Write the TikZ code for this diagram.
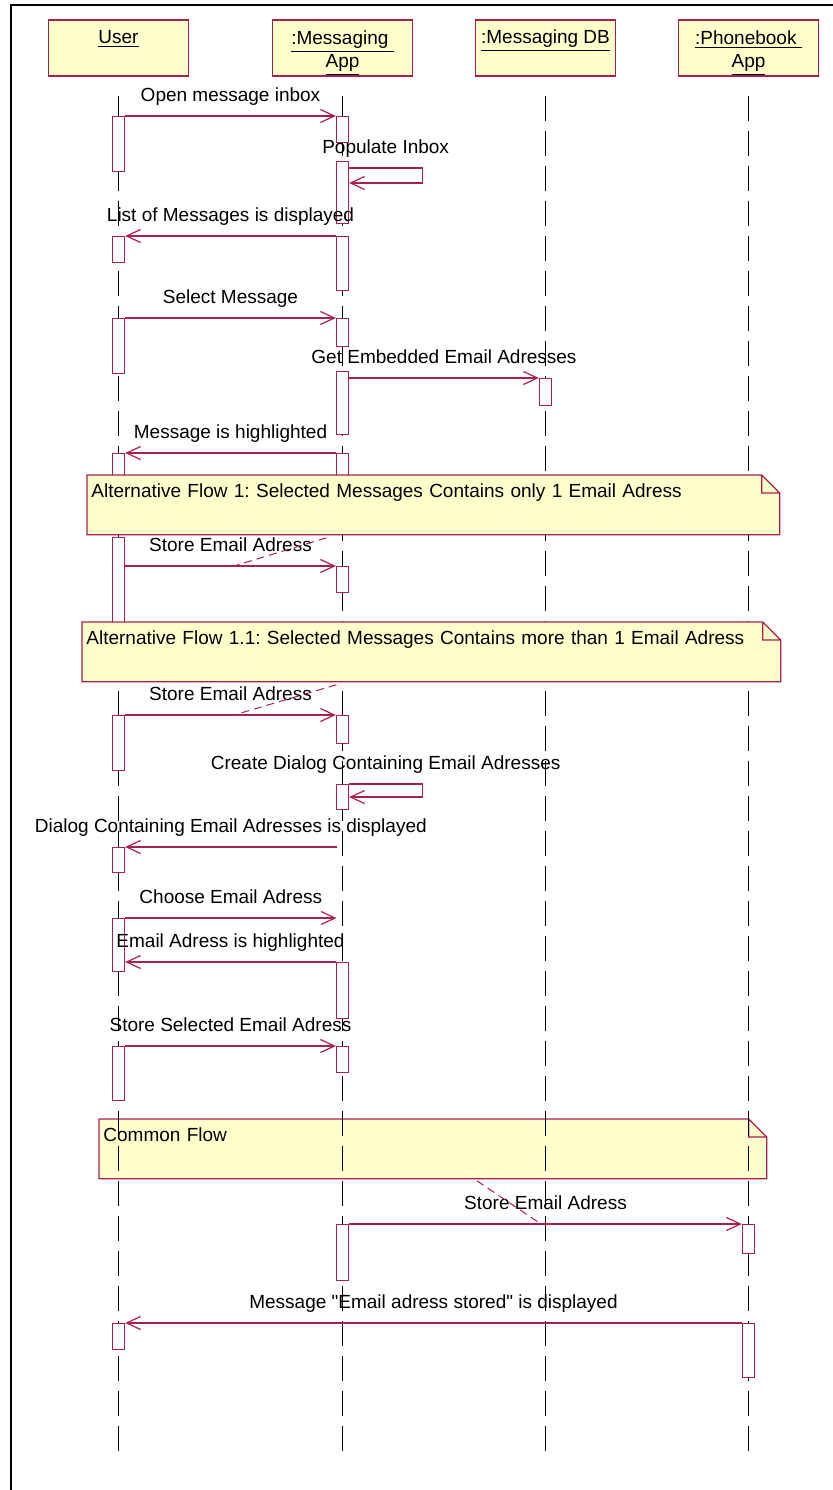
\documentclass[tikz,border=0pt]{standalone}
\usepackage{fontspec}
\setmainfont{Liberation Sans}
\usetikzlibrary{arrows.meta}
\definecolor{rose}{HTML}{A8204E}
\definecolor{pale}{HTML}{FFFFCC}
\frenchspacing
\newcommand{\noteframe}[1]{%
  \fill[white] ([xshift=-9pt]#1.north east) -- (#1.north east) -- ([yshift=-9pt]#1.north east) -- cycle;
  \draw[draw=rose, line width=0.65pt] (#1.south west) -- (#1.north west) -- ([xshift=-9pt]#1.north east)
    -- ([yshift=-9pt]#1.north east) -- (#1.south east) -- cycle
    ([xshift=-9pt]#1.north east) |- ([yshift=-9pt]#1.north east);}
\tikzset{
  head/.style={anchor=north, draw=rose, fill=pale, line width=0.75pt, minimum width=70pt,
    align=center, inner xsep=1pt, inner ysep=0.5pt, text height=11.5pt, text depth=15.5pt},
  headtwo/.style={head, text height=23.5pt, text depth=3.5pt},
  lifeline/.style={line width=0.75pt, dash pattern=on 12.5pt off 5pt},
  act/.style={anchor=north, draw=rose, fill=white, line width=0.65pt, minimum width=6pt, inner sep=0pt},
  msg/.style={draw=rose, line width=0.6pt, -{Straight Barb[length=7pt, width=6.5pt]}},
  lbl/.style={midway, above=5pt, inner sep=0pt, text depth=2pt, text=black},
  note/.style={anchor=north west, fill=pale, inner xsep=2pt, inner ysep=2pt, text height=9pt,
    text depth=16.5pt, align=left},
  noteline/.style={draw=rose, line width=0.5pt, dash pattern=on 4pt off 2.5pt}
}
\begin{document}
\begin{tikzpicture}[x=0.5pt, y=-0.5pt, font=\fontsize{9.5}{11.5}\selectfont]
  \useasboundingbox (0,0) rectangle (833,1490);
  \draw[line width=1pt] (11,1490) -- (11,5) -- (833,5);

  \node[head] (user) at (118.5,19) {\underline{User}};
  \node[headtwo] (app) at (342.5,19) {\underline{:Messaging\ }\\\underline{App}};
  \node[head] (db) at (545.5,19) {\underline{:Messaging DB}};
  \node[headtwo] (pb) at (748.5,19) {\underline{:Phonebook\ }\\\underline{App}};

  \node[note, text width=329.5pt] (cf) at (99,1119) {Common Flow};
  \noteframe{cf}

  \foreach \h in {user,app,db,pb}
    \draw[lifeline] ([yshift=-9.5pt]\h.south) -- ++(0,1364);

  \node[act, minimum height=27.5pt] (u1) at (user |- 0,116) {};
  \node[act, minimum height=13pt] (u2) at (user |- 0,236) {};
  \node[act, minimum height=27.5pt] (u3) at (user |- 0,318) {};
  \node[act, minimum height=18.5pt] (u4) at (user |- 0,453) {};
  \node[act, minimum height=46pt] (u5) at (user |- 0,537) {};
  \node[act, minimum height=27.5pt] (u6) at (user |- 0,715) {};
  \node[act, minimum height=12.5pt] (u7) at (user |- 0,847) {};
  \node[act, minimum height=26.5pt] (u8) at (user |- 0,918) {};
  \node[act, minimum height=27pt] (u9) at (user |- 0,1046) {};
  \node[act, minimum height=13pt] (u10) at (user |- 0,1323) {};

  \node[act, minimum height=13pt] (a1) at (app |- 0,116) {};
  \node[act, minimum height=31pt] (a2) at (app |- 0,161) {};
  \node[act, minimum height=27pt] (a3) at (app |- 0,236) {};
  \node[act, minimum height=14pt] (a4) at (app |- 0,318) {};
  \node[act, minimum height=31.5pt] (a5) at (app |- 0,371) {};
  \node[act, minimum height=18.5pt] (a6) at (app |- 0,453) {};
  \node[act, minimum height=13pt] (a7) at (app |- 0,566) {};
  \node[act, minimum height=14pt] (a8) at (app |- 0,715) {};
  \node[act, minimum height=12.5pt] (a9) at (app |- 0,784) {};
  \node[act, minimum height=28pt] (a10) at (app |- 0,962) {};
  \node[act, minimum height=13pt] (a11) at (app |- 0,1046) {};
  \node[act, minimum height=28pt] (a12) at (app |- 0,1224) {};

  \node[act, minimum height=13.5pt] (d1) at (db |- 0,378) {};
  \node[act, minimum height=14.5pt] (p1) at (pb |- 0,1224) {};
  \node[act, minimum height=27pt] (p2) at (pb |- 0,1323) {};

  \coordinate (dlg) at (336.5,847);
  \coordinate (chs) at (336.5,918);

  \draw[msg] (u1.north east) -- (a1.north west) node[lbl] {Open message inbox};
  \draw[msg] ([yshift=-3.5pt]a2.north east) -- ++(73,0) node[lbl] {Populate Inbox} -- ++(0,15)
    -- ([yshift=-11pt]a2.north east);
  \draw[msg] (a3.north west) -- (u2.north east) node[lbl] {List of Messages is displayed};
  \draw[msg] (u3.north east) -- (a4.north west) node[lbl] {Select Message};
  \draw[msg] (a5.east |- d1.north) -- (d1.north west) node[lbl] {Get Embedded Email Adresses};
  \draw[msg] (a6.north west) -- (u4.north east) node[lbl] {Message is highlighted};
  \draw[msg] (u5.east |- a7.north) -- (a7.north west) node[lbl] {Store Email Adress};
  \draw[msg] (u6.north east) -- (a8.north west) node[lbl] {Store Email Adress};
  \draw[msg] (a9.north east) -- ++(73,0) node[lbl] {Create Dialog Containing Email Adresses} -- ++(0,13)
    -- ([yshift=-6.5pt]a9.north east);
  \draw[msg] (dlg) -- (u7.north east) node[lbl] {Dialog Containing Email Adresses is displayed};
  \draw[msg] (u8.north east) -- (chs) node[lbl] {Choose Email Adress};
  \draw[msg] (a10.north west) -- (u8.east |- a10.north) node[lbl] {Email Adress is highlighted};
  \draw[msg] (u9.north east) -- (a11.north west) node[lbl] {Store Selected Email Adress};
  \draw[msg] (a12.north east) -- (p1.north west) node[lbl] {Store Email Adress};
  \draw[msg] (p2.north west) -- (u10.north east)
    node[lbl] {Message \textquotedbl Email adress stored\textquotedbl\ is displayed};

  \node[note, text width=342pt] (n1) at (87,475)
    {Alternative Flow 1: Selected Messages Contains only 1 Email Adress};
  \noteframe{n1}
  \node[note, text width=345pt] (n2) at (82,622)
    {Alternative Flow 1.1: Selected Messages Contains more than 1 Email Adress};
  \noteframe{n2}

  \coordinate (k1) at (234,566);
  \coordinate (k2) at (234,715);
  \coordinate (k3) at (538,1222);
  \draw[noteline] ([xshift=-53.5pt,yshift=-1.5pt]n1.south) -- (k1);
  \draw[noteline] ([xshift=-47.5pt,yshift=-1.5pt]n2.south) -- (k2);
  \draw[noteline] ([xshift=22pt,yshift=-1pt]cf.south) -- (k3);
\end{tikzpicture}
\end{document}
